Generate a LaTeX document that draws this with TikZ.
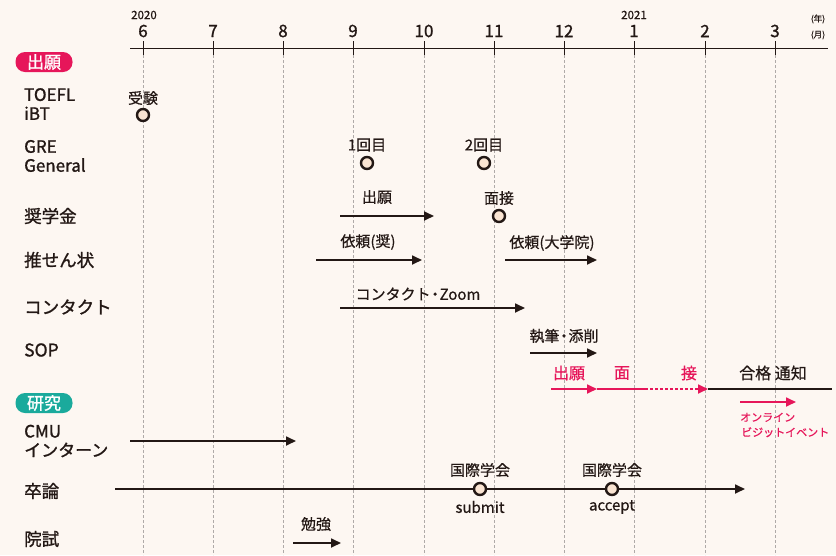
\documentclass[tikz,border=0pt]{standalone}
\usepackage{fontspec}
\setmainfont{Noto Sans CJK JP}[FakeBold=0.6]
\newfontfamily\medfont{Noto Sans CJK JP}[FakeBold=1.2]
\usetikzlibrary{arrows.meta}
\definecolor{bg}{RGB}{253,247,242}
\definecolor{ink}{RGB}{35,24,21}
\definecolor{pinkc}{RGB}{230,22,90}
\definecolor{tealc}{RGB}{26,170,156}
\definecolor{dotfill}{RGB}{250,228,210}
\definecolor{gridc}{RGB}{175,170,168}
\tikzset{
  rowlabel/.style={anchor=west, font=\medfont\fontsize{17.5}{17.5}\selectfont, text=ink, align=left, inner sep=0pt},
  twoline/.style={anchor=west, font=\medfont\fontsize{17}{19}\selectfont, text=ink, align=left, inner sep=0pt},
  month/.style={font=\medfont\fontsize{17}{17}\selectfont, text=ink, inner sep=0pt},
  yearlbl/.style={font=\fontsize{11.5}{11.5}\selectfont, text=ink, inner sep=0pt},
  lbl/.style={font=\fontsize{15}{15}\selectfont, text=ink, inner sep=0pt},
  pinklbl/.style={font=\fontsize{16}{16}\selectfont, text=pinkc, inner sep=0pt},
  smallpink/.style={font=\fontsize{11}{15}\selectfont, text=pinkc, inner sep=0pt, anchor=west, align=left},
  pill/.style={rounded corners=9.5pt, minimum width=57pt, minimum height=20pt, text=white, font=\medfont\fontsize{17}{17}\selectfont, inner sep=0pt},
  evt/.style={circle, draw=ink, line width=2.4pt, fill=dotfill, minimum size=12pt, inner sep=0pt},
  arr/.style={draw=ink, line width=1.7pt, -{Triangle[length=10pt,width=9pt]}},
  parr/.style={draw=pinkc, line width=1.7pt, -{Triangle[length=10pt,width=9pt]}},
  gridline/.style={draw=gridc, line width=0.5pt, dash pattern=on 3pt off 2pt},
}
\begin{document}
\begin{tikzpicture}[x=1pt,y=-1pt]
\fill[bg] (0,0) rectangle (836,555);
\useasboundingbox (0,0) rectangle (836,555);
% axis
\coordinate (axL) at (130,48);
\coordinate (axR) at (828,48);
\draw[ink, line width=1pt] (axL) -- (axR);
\foreach \m/\x in {6/143,7/213,8/283,9/353,10/424,11/494,12/564,1/634,2/705,3/775}{
  \coordinate (t\m) at (\x,48);
  \draw[gridline] (\x,55) -- (\x,555);
  \draw[ink, line width=1pt] (\x,41) -- (\x,55);
  \node[month] (m\m) at (\x,31) {\m};
}
\node[yearlbl] (y2020) at (144,15) {2020};
\node[yearlbl] (y2021) at (634,15) {2021};
\node[font=\fontsize{8.5}{8.5}\selectfont, text=ink, inner sep=0pt] (nen) at (818,19) {(年)};
\node[font=\fontsize{8.5}{8.5}\selectfont, text=ink, inner sep=0pt] (tsuki) at (818,35) {(月)};
% section pills
\node[pill, fill=pinkc] (p1) at (44,62) {出願};
\node[pill, fill=tealc] (p2) at (44,403) {研究};
% row labels
\node[twoline] (r1) at (24,104) {TOEFL\\iBT};
\node[twoline] (r2) at (24,156) {GRE\\General};
\node[rowlabel] (r3) at (24,216) {奨学金};
\node[rowlabel] (r4) at (24,260) {推せん状};
\node[rowlabel] (r5) at (24,307) {コンタクト};
\node[rowlabel] (r6) at (24,350) {SOP};
\node[twoline] (r7) at (24,441) {CMU\\インターン};
\node[rowlabel] (r8) at (24,491) {卒論};
\node[rowlabel] (r9) at (24,539) {院試};
% TOEFL
\node[evt] (toefl) at (143,115) {};
\node[lbl] (toeflL) at (143,98) {受験};
% GRE
\node[evt] (gre1) at (367,163) {};
\node[lbl] (gre1L) at (367,145) {1回目};
\node[evt] (gre2) at (484,163) {};
\node[lbl] (gre2L) at (484,145) {2回目};
% scholarship
\coordinate (s1a) at (340,216); \coordinate (s1b) at (434,216);
\draw[arr] (s1a) -- (s1b);
\node[lbl] (s1L) at (377,197) {出願};
\node[evt] (mensetsu) at (499,216) {};
\node[lbl] (mensetsuL) at (499,198) {面接};
% recommendation
\coordinate (r1a) at (316,260); \coordinate (r1b) at (422,260);
\draw[arr] (r1a) -- (r1b);
\node[lbl] (r1L) at (368,242) {依頼(奨)};
\coordinate (r2a) at (505,260); \coordinate (r2b) at (597,260);
\draw[arr] (r2a) -- (r2b);
\node[lbl] (r2L) at (552,243) {依頼(大学院)};
% contact
\coordinate (c1a) at (340,308); \coordinate (c1b) at (525,308);
\draw[arr] (c1a) -- (c1b);
\node[lbl] (c1L) at (418,294) {コンタクト{\kern-3pt}・{\kern-3pt}Zoom};
% SOP
\coordinate (sopa) at (530,353); \coordinate (sopb) at (597,353);
\draw[arr] (sopa) -- (sopb);
\node[lbl] (sopL) at (564,336) {執筆{\kern-3pt}・{\kern-3pt}添削};
% application pink row
\coordinate (pa) at (551,389); \coordinate (pb) at (597,389);
\coordinate (pc) at (645,389); \coordinate (pd) at (708,389);
\coordinate (pe) at (832,389);
\draw[parr] (pa) -- (pb);
\draw[draw=pinkc, line width=1.7pt] (pb) -- (pc);
\draw[draw=pinkc, line width=1.7pt, dash pattern=on 2.5pt off 2.5pt] (pc) -- ([xshift=-9pt]pd);
\draw[parr] ([xshift=-10pt]pd) -- (pd);
\draw[ink, line width=1.7pt] (pd) -- (pe);
\node[pinklbl] (ap1) at (569,373) {出願};
\node[pinklbl] (ap2) at (622,373) {面};
\node[pinklbl] (ap3) at (689,373) {接};
\node[lbl, font=\fontsize{16}{16}\selectfont] (ap4) at (773,373) {合格 通知};
\coordinate (ova) at (740,402); \coordinate (ovb) at (796,402);
\draw[parr] (ova) -- (ovb);
\node[smallpink] (ovL) at (740,425) {オンライン\\\hspace{1pt}ビジットイベント};
% CMU
\coordinate (cmua) at (130,441); \coordinate (cmub) at (296,441);
\draw[arr] (cmua) -- (cmub);
% thesis
\coordinate (tha) at (115,489); \coordinate (thb) at (745,489);
\draw[arr] (tha) -- (thb);
\node[evt] (sub) at (480,489) {};
\node[evt] (acc) at (612,489) {};
\node[lbl] (subT) at (480,470) {国際学会};
\node[lbl] (subB) at (480,507) {submit};
\node[lbl] (accT) at (612,470) {国際学会};
\node[lbl] (accB) at (612,507) {accept};
% grad exam
\coordinate (ga) at (293,543); \coordinate (gb) at (341,543);
\draw[arr] (ga) -- (gb);
\node[lbl] (gL) at (316,524) {勉強};
\end{tikzpicture}
\end{document}
